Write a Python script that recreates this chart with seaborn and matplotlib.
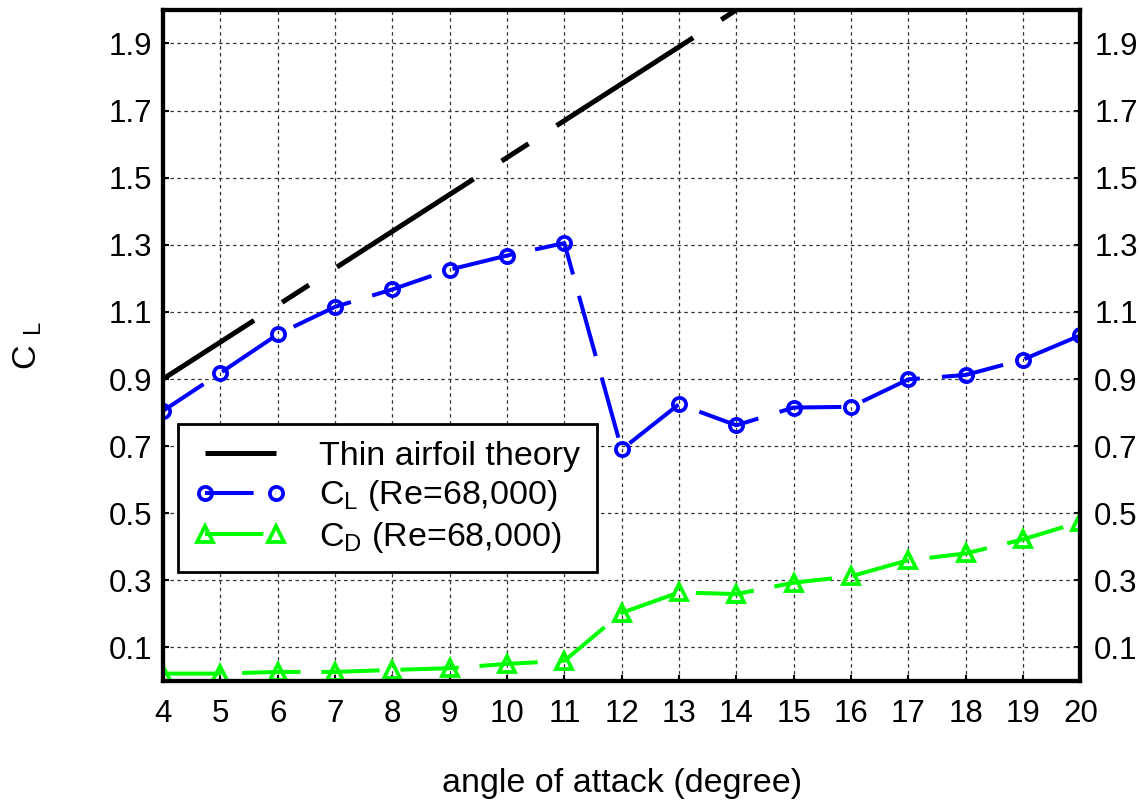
import numpy as np
import pandas as pd
import seaborn as sns
import matplotlib.pyplot as plt

# data
alpha = [4, 5, 6, 7, 8, 9, 10, 11, 12, 13, 14, 15, 16, 17, 18, 19, 20]
cl_thin = [0.90, 1.01, 1.12, 1.23, 1.34, 1.45, 1.56, 1.67, 1.78, 1.89,
           2.00, 2.11, 2.22, 2.33, 2.44, 2.55, 2.66]
cl_exp = [0.805, 0.918, 1.033, 1.115, 1.167, 1.226, 1.268, 1.305, 0.690,
          0.825, 0.762, 0.815, 0.817, 0.899, 0.912, 0.958, 1.030]
cd_exp = [0.022, 0.022, 0.027, 0.027, 0.033, 0.038, 0.051, 0.060, 0.203,
          0.264, 0.259, 0.293, 0.312, 0.360, 0.380, 0.422, 0.474]
y_ticks = [0.1, 0.3, 0.5, 0.7, 0.9, 1.1, 1.3, 1.5, 1.7, 1.9]
x_ticks = alpha

labels = ["Thin airfoil theory", "C$_L$ (Re=68,000)", "C$_D$ (Re=68,000)"]

sns.set_style("ticks")
plt.rcParams["font.family"] = ["Liberation Sans", "DejaVu Sans"]
plt.rcParams["mathtext.default"] = "regular"
plt.rcParams["lines.scale_dashes"] = False
plt.rcParams["text.color"] = "black"
plt.rcParams["axes.labelcolor"] = "black"
plt.rcParams["xtick.color"] = "black"
plt.rcParams["ytick.color"] = "black"
fs_tick = 22.5
fs_text = 24.5

df = pd.DataFrame({"alpha": alpha, "thin": cl_thin, "cl": cl_exp, "cd": cd_exp})

fig = plt.figure(figsize=(11.39, 8.02), dpi=100)
ax = fig.add_axes([0.1431, 0.1509, 0.8054, 0.8367])

sns.lineplot(data=df, x="alpha", y="thin", ax=ax, color="black", lw=3.6,
             label=labels[0], linestyle=(39, (117, 24, 23, 24)))
sns.lineplot(data=df, x="alpha", y="cl", ax=ax, color="blue", lw=2.9,
             marker="o", ms=9.5, mfc="none", mec="blue", mew=2.7,
             label=labels[1], linestyle=(10, (45, 16)))
sns.lineplot(data=df, x="alpha", y="cd", ax=ax, color="#00ff00", lw=2.9,
             marker="^", ms=11, mfc="none", mec="#00ff00", mew=2.7,
             label=labels[2], linestyle=(0, (42, 15)))

ax.set_xlim(4, 20)
ax.set_ylim(0, 2)
ax.set_xticks(x_ticks)
ax.set_yticks(y_ticks)
ax.set_yticklabels([f"{v:.1f}" for v in y_ticks])
ax.grid(True, color="0.2", lw=0.9, linestyle=(0, (2.5, 2.5)))
ax.tick_params(direction="in", length=4, width=1.5, labelsize=fs_tick)
ax.tick_params(axis="y", pad=8)
ax.tick_params(axis="x", pad=13)
for s in ax.spines.values():
    s.set_linewidth(3)
    s.set_color("black")

ax.set_xlabel("angle of attack (degree)", fontsize=fs_text, labelpad=28)
ax.set_ylabel("C $_L$", fontsize=fs_text, labelpad=46)

ax2 = ax.twinx()
ax2.set_ylim(ax.get_ylim())
ax2.set_yticks(y_ticks)
ax2.set_yticklabels([f"{v:.1f}" for v in y_ticks])
ax2.tick_params(direction="in", length=4, width=1.5, labelsize=fs_tick, pad=10)
for s in ax2.spines.values():
    s.set_linewidth(3)

leg = ax.legend(loc="lower left", bbox_to_anchor=(0.016, 0.162), fontsize=fs_text,
                handlelength=2.7, handletextpad=0.95, labelspacing=0.2,
                borderpad=0.5, borderaxespad=0, fancybox=False,
                framealpha=1, edgecolor="black", numpoints=2)
leg.get_frame().set_linewidth(2)
leg.set_zorder(5)
ax.set_zorder(ax2.get_zorder() + 1)
ax.patch.set_visible(False)

fig.savefig("out.png", dpi=100)
